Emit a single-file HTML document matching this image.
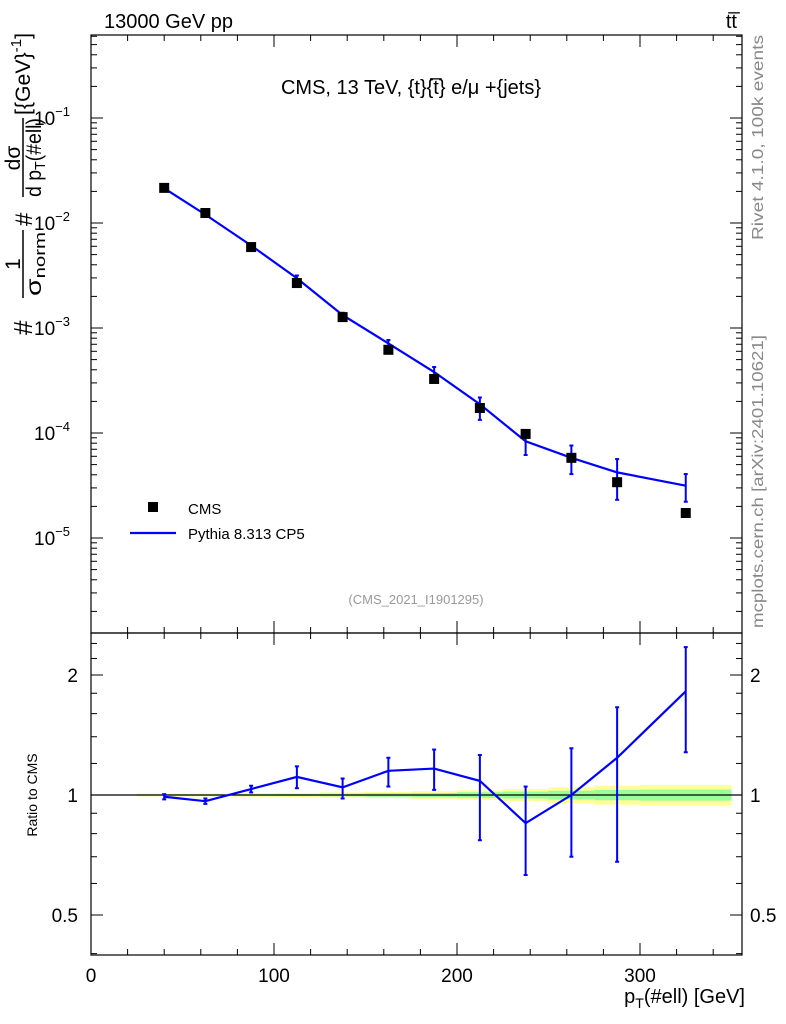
<!DOCTYPE html>
<html><head><meta charset="utf-8"><style>
body{margin:0;background:#fff;}
svg{display:block;font-family:"Liberation Sans",sans-serif;}
</style></head><body>
<svg id="c" width="786" height="1024" viewBox="0 0 786 1024"></svg>
<script>
const xCenters=[40,62.5,87.5,112.5,137.5,162.5,187.5,212.5,237.5,262.5,287.5,325];
const binEdges=[25,50,75,100,125,150,175,200,225,250,275,300,350];
const cmsValues=[0.0216,0.01245,0.0059,0.00268,0.00127,0.00062,0.000327,0.000173,0.000098,0.000058,0.000034,0.0000173];
const ratioValues=[0.99,0.965,1.035,1.11,1.045,1.15,1.165,1.085,0.85,1.0,1.24,1.82];
const ratioErrLo=[0.975,0.95,1.015,1.04,0.98,1.05,1.03,0.77,0.63,0.70,0.68,1.28];
const ratioErrHi=[1.005,0.98,1.055,1.18,1.10,1.24,1.30,1.26,1.05,1.31,1.66,2.35];
const bandOuter=[0.008,0.008,0.01,0.012,0.015,0.018,0.022,0.028,0.035,0.045,0.055,0.06];
const bandInner=[0.004,0.004,0.005,0.006,0.008,0.01,0.012,0.016,0.02,0.025,0.03,0.032];
const xTicks=[0,100,200,300];
const yTicks=[-5,-4,-3,-2,-1];
const rTicks=[0.5,1,2];

const L=91,R=742,T=35,MB=633,RB=955;
const X=v=>L+v*1.83;
const Y=v=>118-(Math.log10(v)+1)*105;
const RY=v=>795-Math.log2(v)*120;
const svg=document.getElementById('c');
const NS='http://www.w3.org/2000/svg';
function mk(tag,attrs,parent){const e=document.createElementNS(NS,tag);for(const k in attrs)e.setAttribute(k,attrs[k]);(parent||svg).appendChild(e);return e;}
function txt(s,x,y,size,anchor,fill,parent){const t=mk('text',{x:x,y:y,'font-size':size,'text-anchor':anchor||'start',fill:fill||'#000'},parent);t.textContent=s;return t;}

const band=mk('g',{});


for(let i=0;i<bandOuter.length;i++){
 const x0=X(binEdges[i]),x1=X(binEdges[i+1]);
 mk('rect',{x:x0,y:RY(1+bandOuter[i]),width:x1-x0,height:RY(1-bandOuter[i])-RY(1+bandOuter[i]),fill:'#ffff99'},band);
 mk('rect',{x:x0,y:RY(1+bandInner[i]),width:x1-x0,height:RY(1-bandInner[i])-RY(1+bandInner[i]),fill:'#99ff99'},band);
}
mk('line',{x1:L,x2:R,y1:RY(1),y2:RY(1),stroke:'#000','stroke-width':1.2});

const f1=mk('rect',{x:L,y:T,width:R-L,height:MB-T,fill:'none',stroke:'#000','stroke-width':1.2});

const f2=mk('rect',{x:L,y:MB,width:R-L,height:RB-MB,fill:'none',stroke:'#000','stroke-width':1.2});


for(let v=0;v<=350;v+=20){
 const big=v%100===0, x=X(v);
 [[T,1],[MB,-1],[MB,1],[RB,-1]].forEach(([y,d])=>mk('line',{x1:x,x2:x,y1:y,y2:y+d*(big?12:6),stroke:'#000'}));
}
for(const v of xTicks){const t=txt(String(v),X(v),982,19,'middle');}
for(let e=-6;e<=0;e++)for(let m=1;m<10;m++){
 const y=Y(m*Math.pow(10,e)); if(y<T||y>MB)continue;
 const l=m===1?12:6;
 mk('line',{x1:L,x2:L+l,y1:y,y2:y,stroke:'#000'});mk('line',{x1:R,x2:R-l,y1:y,y2:y,stroke:'#000'});
}
for(const e of yTicks){
 const t=mk('text',{x:70,y:Y(Math.pow(10,e))+7,'font-size':19,'text-anchor':'end'});
 
 t.innerHTML='10<tspan dy="-9" font-size="13">'+(e<0?'\u2212':'')+Math.abs(e)+'</tspan>';
}
[0.4,0.5,0.6,0.7,0.8,0.9,1,1.2,1.4,1.6,1.8,2,2.2,2.4].forEach(v=>{
 const y=RY(v),big=(v===0.5||v===1||v===2),l=big?12:6;
 mk('line',{x1:L,x2:L+l,y1:y,y2:y,stroke:'#000'});mk('line',{x1:R,x2:R-l,y1:y,y2:y,stroke:'#000'});
});
for(const v of rTicks){
 const t1=txt(String(v),78,RY(v)+7,19,'end');
 const t2=txt(String(v),750,RY(v)+7,19,'start');
}

const mcVals=cmsValues.map((v,i)=>v*ratioValues[i]);
const mcLine=mk('polyline',{points:xCenters.map((x,i)=>X(x)+','+Y(mcVals[i])).join(' '),fill:'none',stroke:'#0000ff','stroke-width':2.2});

for(let i=0;i<xCenters.length;i++){
 const x=X(xCenters[i]),y1=Y(cmsValues[i]*ratioErrHi[i]),y2=Y(cmsValues[i]*ratioErrLo[i]);
 mk('line',{x1:x,x2:x,y1:y1,y2:y2,stroke:'#0000ff','stroke-width':2});
 mk('line',{x1:x-2,x2:x+2,y1:y1,y2:y1,stroke:'#0000ff','stroke-width':2});
 mk('line',{x1:x-2,x2:x+2,y1:y2,y2:y2,stroke:'#0000ff','stroke-width':2});
}
for(let i=0;i<xCenters.length;i++){
 const r=mk('rect',{x:X(xCenters[i])-5,y:Y(cmsValues[i])-5,width:10,height:10,fill:'#000'});
 
}
const rl=mk('polyline',{points:xCenters.map((x,i)=>X(x)+','+RY(ratioValues[i])).join(' '),fill:'none',stroke:'#0000ff','stroke-width':2.2});

for(let i=0;i<xCenters.length;i++){
 const x=X(xCenters[i]),y1=RY(ratioErrHi[i]),y2=RY(ratioErrLo[i]);
 mk('line',{x1:x,x2:x,y1:y1,y2:y2,stroke:'#0000ff','stroke-width':2});
 mk('line',{x1:x-2,x2:x+2,y1:y1,y2:y1,stroke:'#0000ff','stroke-width':2});
 mk('line',{x1:x-2,x2:x+2,y1:y2,y2:y2,stroke:'#0000ff','stroke-width':2});
}
</script>
<svg width="786" height="1024" style="position:absolute;left:0;top:0;font-family:'Liberation Sans',sans-serif">
 <text x="104" y="28" font-size="20">13000 GeV pp</text>
 <text x="737" y="28" font-size="20" text-anchor="end">tt&#773;</text>
 <text x="411" y="94" font-size="20" text-anchor="middle">CMS, 13 TeV, {t}{t&#773;} e/μ +{jets}</text>
 <text x="416" y="604" font-size="13" fill="#999" text-anchor="middle">(CMS_2021_I1901295)</text>
 <rect x="148" y="502" width="10" height="10" fill="#000"/>
 <text x="188" y="514" font-size="15">CMS</text>
 <line x1="130" x2="176" y1="533" y2="533" stroke="#0000ff" stroke-width="2.2"/>
 <text x="188" y="539" font-size="15">Pythia 8.313 CP5</text>
 <text x="745" y="1003" font-size="20" text-anchor="end">p<tspan dy="5" font-size="14">T</tspan><tspan dy="-5">(#ell) [GeV]</tspan></text>
 <g transform="translate(23,338) rotate(-90)">
  <text x="3" y="9" font-size="26">#</text>
  <text x="74" y="-3" font-size="21" text-anchor="middle">1</text>
  <line x1="40" x2="108" y1="0" y2="0" stroke="#000" stroke-width="1.5"/>
  <text x="42" y="18" font-size="21" textLength="64" lengthAdjust="spacingAndGlyphs">σ<tspan dy="4" font-size="15">norm</tspan></text>
  <text x="112" y="9" font-size="24">#</text>
  <text x="180" y="-3" font-size="21" text-anchor="middle">dσ</text>
  <line x1="141" x2="220" y1="0" y2="0" stroke="#000" stroke-width="1.5"/>
  <text x="141" y="18" font-size="21" textLength="79" lengthAdjust="spacingAndGlyphs">d p<tspan dy="4" font-size="15">T</tspan><tspan dy="-4">(#ell)</tspan></text>
  <text x="223" y="7" font-size="21" textLength="82" lengthAdjust="spacingAndGlyphs">[{GeV}<tspan dy="-9" font-size="15">-1</tspan><tspan dy="9">]</tspan></text>
 </g>
 <text transform="translate(37,795) rotate(-90)" font-size="14" text-anchor="middle">Ratio to CMS</text>
 <text transform="translate(763,240) rotate(-90)" font-size="16" fill="#888" textLength="205" lengthAdjust="spacingAndGlyphs">Rivet 4.1.0,  100k events</text>
 <text transform="translate(763,628) rotate(-90)" font-size="16" fill="#888" textLength="293" lengthAdjust="spacingAndGlyphs">mcplots.cern.ch [arXiv:2401.10621]</text>
</svg>
</body></html>
